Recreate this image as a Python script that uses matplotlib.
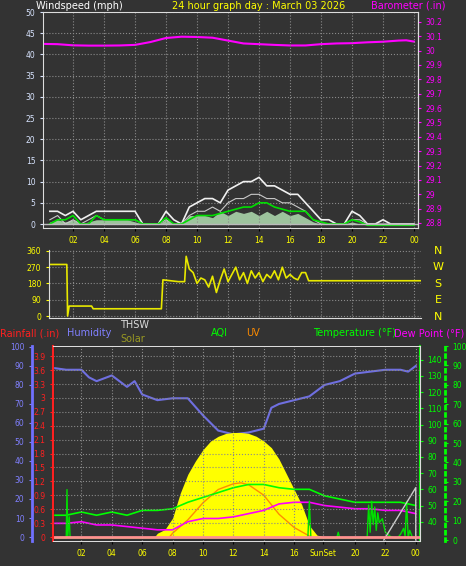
import numpy as np
import matplotlib
matplotlib.use("Agg")
from matplotlib import pyplot as plt

W, H = 466, 566
BG = '#333333'
GRID = '#8a8a8a'

# ---- data ----
hours = ['02', '04', '06', '08', '10', '12', '14', '16', '18', '20', '22', '00']
hour_pos = [2, 4, 6, 8, 10, 12, 14, 16, 18, 20, 22, 24]

wt = [0.5, 1, 1.5, 2, 2.5, 3, 3.5, 4, 4.5, 5, 5.5, 6, 6.5, 7, 7.5, 8, 8.5, 9, 9.5, 10,
      10.5, 11, 11.5, 12, 12.5, 13, 13.5, 14, 14.5, 15, 15.5, 16, 16.5, 17, 17.5, 18,
      18.5, 19, 19.5, 20, 20.5, 21, 21.5, 22, 22.5, 23, 23.5, 24]
gust = [3, 3, 2, 3, 1, 2, 3, 3, 3, 3, 3, 3, 0, 0, 0, 3, 1, 0, 4, 5,
        6, 6, 5, 8, 9, 10, 10, 11, 9, 9, 8, 7, 7, 5, 3, 1,
        1, 0, 0, 3, 2, 0, 0, 1, 0, 0, 0, 0]
gust_lo = [1, 2, 0, 1, 0, 1, 2, 1, 1, 1, 1, 1, 0, 0, 0, 1, 0, 0, 2, 3,
           3, 4, 3, 5, 6, 6, 7, 7, 6, 6, 5, 5, 4, 3, 1, 0,
           0, 0, 0, 1, 1, 0, 0, 0, 0, 0, 0, 0]
wavg = [0, 1, 1, 2, 0, 0, 2, 1, 1, 1, 1, 1, 0, 0, 0, 1.5, 0, 0, 1, 2,
        2, 2, 2.5, 3, 3.5, 4, 4, 5, 5, 4, 3.5, 3, 3, 3, 1, 0.5,
        0, 0, 0, 1, 0.5, -0.3, -0.3, -0.3, -0.3, -0.3, -0.3, -0.3]
wspd = [0.5, 1, 0.5, 1, 0, 0.5, 1, 1, 1, 1, 1, 0.5, 0, 0, 0, 1, 0, 0, 2, 2,
        2, 1.5, 3, 2, 3, 2.5, 3, 2, 3, 2, 3, 2, 2.5, 1.5, 0.5, 0,
        0, 0, 0, 0.5, 0, 0, 0, 0, 0, 0, 0, 0]

baro_t = [0, 1, 2, 3, 4, 5, 6, 7, 8, 9, 10, 11, 12, 13, 14, 15, 16, 17, 18, 19, 20, 21, 22, 23, 23.5, 24]
baro = [30.047, 30.045, 30.037, 30.035, 30.035, 30.036, 30.04, 30.06, 30.088, 30.097, 30.095,
        30.09, 30.07, 30.05, 30.045, 30.04, 30.036, 30.036, 30.045, 30.05, 30.052, 30.058,
        30.062, 30.07, 30.072, 30.063]

dir_t = [0.5, 1.6, 1.65, 1.75, 3.2, 3.3, 7.7, 7.8, 8.8, 9.2, 9.3, 9.5, 9.75, 10, 10.25, 10.5,
         10.75, 11, 11.25, 11.5, 11.75, 12, 12.25, 12.5, 12.75, 13, 13.25, 13.5, 13.75, 14,
         14.25, 14.5, 14.75, 15, 15.25, 15.5, 15.75, 16, 16.25, 16.5, 16.75, 17, 17.2, 24.4]
wdir = [285, 285, 0, 55, 55, 40, 40, 200, 190, 190, 330, 260, 240, 180, 210, 200,
        160, 220, 130, 200, 260, 190, 230, 270, 200, 240, 180, 250, 210, 240,
        190, 230, 210, 250, 200, 270, 210, 230, 210, 200, 240, 240, 195, 195]

hum_t = [0.1, 1, 2, 2.5, 3, 4, 5, 5.5, 6, 7, 8, 9, 10, 11, 12, 13, 14, 14.5, 15, 16, 17,
         18, 19, 20, 21, 22, 23, 23.5, 24]
hum = [89, 88, 88, 84, 82, 85, 79, 82, 75, 72, 73, 73, 64, 56, 54, 55, 57, 68, 70, 72, 74,
       80, 82, 86, 87, 88, 88, 87, 90]

sol_t = [6.8, 7, 7.5, 8, 8.5, 9, 9.5, 10, 10.5, 11, 11.5, 12, 12.5, 13, 13.5, 14, 14.5, 15,
         15.5, 16, 16.5, 17, 17.5, 18]
solar = [0, 20, 40, 100, 230, 330, 400, 460, 505, 530, 545, 550, 550, 545, 530, 505, 470, 410,
         330, 250, 170, 60, 10, 0]

uv_t = [7.8, 8, 9, 10, 11, 12, 12.5, 13, 14, 15, 16, 17]
uv = [0, 0.2, 0.9, 1.8, 2.5, 2.8, 2.85, 2.75, 2.2, 1.2, 0.5, 0.05]

tp_t = [0.1, 1, 2, 3, 4, 5, 6, 7, 8, 9, 10, 11, 12, 13, 14, 15, 16, 17, 18, 19, 20, 21, 22, 23, 24]
temp = [44, 44, 46, 44, 46, 44, 47, 47, 48, 52, 55, 58, 61, 63, 63, 61, 60, 60, 56, 54, 52, 52, 52, 52, 50]
dew = [39, 39, 40, 38, 38, 37, 36, 35, 35, 40, 42, 42, 43, 45, 47, 51, 52, 52, 50, 49, 48, 48, 47, 47, 45]

aqi_t = [0.2, 1.0, 1.05, 1.1, 1.2, 1.25, 1.3, 1.5, 6.0, 12.0, 16.9, 17.0, 17.1, 18.8, 18.9, 19.0,
         20.8, 20.9, 21.0, 21.1, 21.2, 21.3, 21.4, 21.5, 21.6, 21.8, 22.0, 22.3, 22.6,
         22.8, 23.0, 23.2, 23.3, 23.4, 23.5, 23.6, 23.8, 24.0]
aqi = [1, 1, 26, 2, 12, 2, 1, 1, 1, 1, 1, 20, 1, 1, 4, 1,
       1, 18, 4, 20, 8, 17, 5, 14, 9, 11, 4, 2, 1,
       1, 3, 6, 2, 20, 1, 5, 1, 1]

thsw_t = [21.9, 24.0, 24.0]
thsw = [0, 27, 0]

# ---- drawing ----
fig = plt.figure(figsize=(W / 100, H / 100), dpi=100, facecolor=BG)


def add(x0, y0, x1, y1):
    a = fig.add_axes([x0 / W, 1 - y1 / H, (x1 - x0) / W, (y1 - y0) / H])
    a.set_facecolor(BG)
    return a


def style(a):
    a.grid(True, color=GRID, ls=':', lw=0.8)
    a.tick_params(labelsize=5.5, length=2)
    for s in a.spines.values():
        s.set_color('#dddddd')
    a.set_xticks(hour_pos)


FS = 5.5

# top panel
ax1 = add(43, 12, 418, 228)
style(ax1)
ax1.set_xlim(0.06, 24.26)
ax1.set_ylim(-0.94, 50)
ax1.set_yticks(range(0, 51, 5))
ax1.set_xticklabels(hours, color='#ffff00', fontsize=FS)
ax1.tick_params(axis='y', colors='#d8e4ff')
ax1.fill_between(wt, 0, wspd, color='#b8e8b8', alpha=0.8, lw=0)
ax1.plot(wt, gust, color='#f0f0f0', lw=1.2)
ax1.plot(wt, gust_lo, color='#c8c8c8', lw=0.8)
ax1.plot(wt, wavg, color='#00e000', lw=1.2)
ax1.axhline(0, color='#bbbbbb', lw=1)
axb = ax1.twinx()
axb.set_ylim(28.765, 30.269)
axb.set_yticks(np.round(np.arange(28.8, 30.21, 0.1), 1))
axb.set_yticklabels(['28.8', '28.9', '29', '29.1', '29.2', '29.3', '29.4', '29.5', '29.6',
                     '29.7', '29.8', '29.9', '30', '30.1', '30.2'])
axb.tick_params(axis='y', colors='#ff00ff', labelsize=FS, length=2)
axb.spines['right'].set_color('#ffffff')
axb.plot(baro_t, baro, color='#ff00ff', lw=1.5)

# direction panel
ax2 = add(49, 250, 421, 318)
style(ax2)
ax2.set_xlim(0.45, 24.45)
ax2.set_ylim(-11, 365)
ax2.set_yticks([0, 90, 180, 270, 360])
ax2.set_xticklabels([])
ax2.tick_params(axis='x', length=0)
ax2.tick_params(axis='y', colors='#ffff00')
for s in ['top', 'right']:
    ax2.spines[s].set_visible(False)
ax2.plot(dir_t, wdir, color='#e8e800', lw=1.2)
for lab, yy in zip(['N', 'W', 'S', 'E', 'N'], [251, 267, 284, 300, 317]):
    fig.text(438 / W, 1 - yy / H, lab, color='#ffff00', fontsize=8, ha='center', va='center')

# headers
fig.text(36 / W, 1 - 6 / H, 'Windspeed (mph)', color='white', fontsize=7, va='center')
fig.text(172 / W, 1 - 6 / H, '24 hour graph day : March 03 2026', color='#ffff00', fontsize=7, va='center')
fig.text(371 / W, 1 - 6 / H, 'Barometer (.in)', color='#ff00ff', fontsize=7, va='center')
row = 333
fig.text(0, 1 - row / H, 'Rainfall (.in)', color='#ff2020', fontsize=7, va='center')
fig.text(67 / W, 1 - row / H, 'Humidity', color='#8080ff', fontsize=7, va='center')
fig.text(120 / W, 1 - 325 / H, 'THSW', color='#dddddd', fontsize=7, va='center')
fig.text(120 / W, 1 - 339 / H, 'Solar', color='#999922', fontsize=7, va='center')
fig.text(211 / W, 1 - row / H, 'AQI', color='#00ff00', fontsize=7, va='center')
fig.text(246 / W, 1 - row / H, 'UV', color='#ff8c00', fontsize=7, va='center')
fig.text(313 / W, 1 - row / H, 'Temperature (°F)', color='#00ff00', fontsize=7, va='center')
fig.text(394 / W, 1 - row / H, 'Dew Point (°F)', color='#ff00ff', fontsize=7, va='center')

# bottom panel
ax3 = add(53, 346, 420, 541)
style(ax3)
ax3.set_xlim(0.13, 24.28)
ax3.set_ylim(-0.086, 4.12)
ax3.set_yticks(np.round(np.arange(0, 3.91, 0.3), 1))
ax3.set_yticklabels(['0', '0.3', '0.6', '0.9', '1.2', '1.5', '1.8', '2.1', '2.4', '2.7',
                     '3', '3.3', '3.6', '3.9'])
ax3.tick_params(axis='y', colors='#ff2020')
ax3.spines['left'].set_color('#ff2020')
ax3.spines['left'].set_linewidth(1.5)
blabels = hours[:]
blabels[8] = 'SunSet'
ax3.set_xticks([2, 4, 6, 8, 10, 12, 14, 16, 17.9, 20, 22, 24])
ax3.set_xticklabels(blabels, color='#ffff00', fontsize=FS)

axh = ax3.twinx()
axh.yaxis.set_ticks_position('left')
axh.spines['left'].set_position(('outward', 15))
axh.spines['left'].set_color('#7070ff')
axh.spines['left'].set_linewidth(2)
axh.set_ylim(-2.1, 100.5)
axh.set_yticks(range(0, 101, 10))
axh.tick_params(axis='y', colors='#8080ff', labelsize=FS, length=2)

axs = ax3.twinx()
axs.set_ylim(-21, 1005)
axs.axis('off')
axs.fill_between(sol_t, 0, solar, color='#ffff00', lw=0)

axu = ax3.twinx()
axu.set_ylim(-0.21, 10.05)
axu.axis('off')
axu.plot(uv_t, uv, color='#ff8c00', lw=1)

axt = ax3.twinx()
axt.set_ylim(28.1, 148.5)
axt.set_yticks(range(40, 141, 10))
axt.tick_params(axis='y', colors='#00ff00', labelsize=FS, length=2)
axt.spines['right'].set_color('#00ff00')
axt.spines['right'].set_linewidth(1.5)
axt.plot(tp_t, temp, color='#00ff00', lw=1.2)
axt.plot(tp_t, dew, color='#ff00ff', lw=1.2)

axq = ax3.twinx()
axq.set_ylim(-0.5, 99)
axq.spines['right'].set_position(('outward', 18))
axq.spines['right'].set_color('#00ff00')
axq.spines['right'].set_linestyle(':')
axq.spines['right'].set_linewidth(2)
axq.set_yticks(range(0, 101, 10))
axq.tick_params(axis='y', colors='#00ff00', labelsize=FS, length=2)
axq.plot(aqi_t, aqi, color='#00e000', lw=1)
axq.plot(thsw_t, thsw, color='#cccccc', lw=1)

axh.plot(hum_t, hum, color='#6f6fe0', lw=1.5)
ax3.axhline(0, color='#ff9090', lw=2)
ax3.set_zorder(axq.get_zorder() + 1)
ax3.patch.set_visible(False)
for a in (axh, axs, axu, axt):
    a.patch.set_visible(False)
ax1.set_zorder(axb.get_zorder() + 1)
ax1.patch.set_visible(False)
axb.patch.set_visible(True)
axb.patch.set_facecolor(BG)

fig.savefig('out.png', dpi=100, facecolor=BG)
